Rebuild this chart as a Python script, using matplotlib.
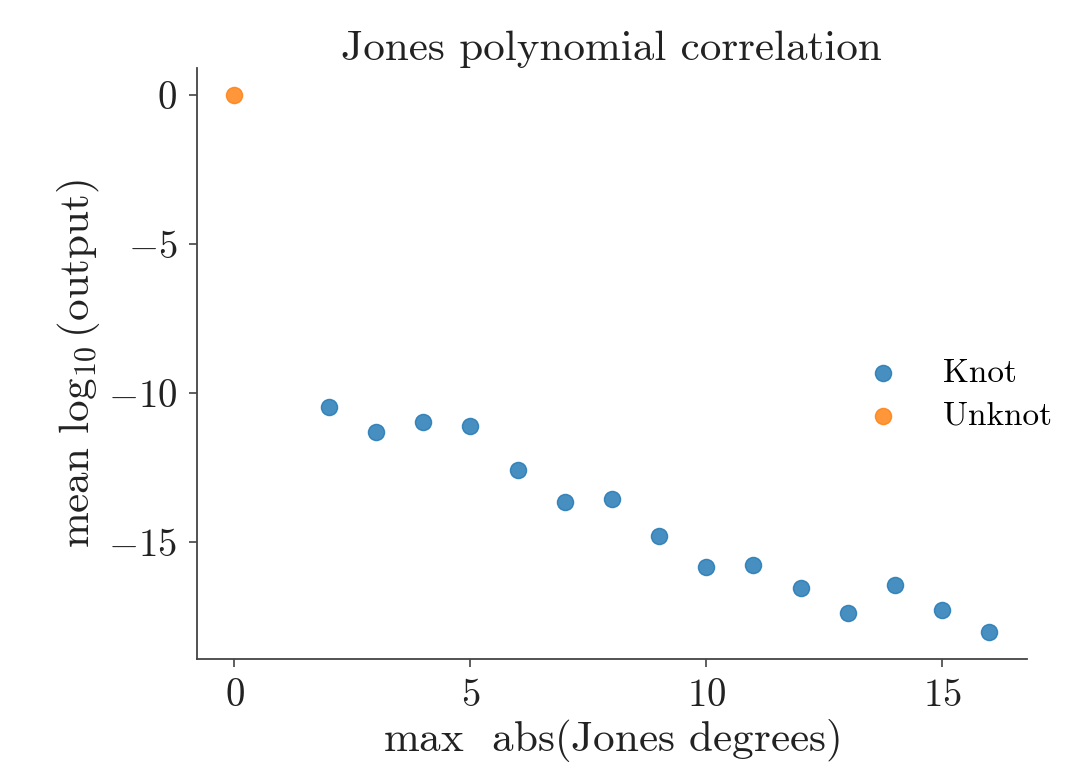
import matplotlib
matplotlib.use("Agg")
import matplotlib.pyplot as plt

knot_x = [2, 3, 4, 5, 6, 7, 8, 9, 10, 11, 12, 13, 14, 15, 16]
knot_y = [-10.47, -11.31, -10.97, -11.11, -12.58, -13.66, -13.56, -14.80,
          -15.84, -15.77, -16.54, -17.38, -16.44, -17.28, -18.02]
unknot_x = [0]
unknot_y = [0.0]

plt.rcParams['font.family'] = ['cmr10', 'DejaVu Serif']
plt.rcParams['mathtext.fontset'] = 'cm'
plt.rcParams['axes.formatter.use_mathtext'] = True
plt.rcParams['axes.unicode_minus'] = True

fig = plt.figure(figsize=(10.81, 7.67), dpi=100)
ax = fig.add_axes([0.182, 0.141, 0.768, 0.770])

ax.scatter(knot_x, knot_y, s=135, color='#1f77b4', alpha=0.82, label='Knot', linewidths=1.0)
ax.scatter(unknot_x, unknot_y, s=135, color='#ff7f0e', alpha=0.82, label='Unknot', linewidths=1.0)

ax.set_xticks([0, 5, 10, 15])
ax.set_yticks([0, -5, -10, -15])
for s in ['top', 'right']:
    ax.spines[s].set_visible(False)
for s in ['left', 'bottom']:
    ax.spines[s].set_color('#444444')
    ax.spines[s].set_linewidth(1.3)
ax.tick_params(axis='both', labelsize=28, length=6, width=1.2, color='#444444', labelcolor='#222222', pad=8)

ax.set_title('Jones polynomial correlation', fontsize=31, color='#222222', pad=5)
ax.set_xlabel(r'$\max$  abs(Jones degrees)', fontsize=31, color='#222222', labelpad=2)
ax.set_ylabel(r'mean $\log_{10}$(output)', fontsize=31, color='#222222', labelpad=4)

leg = ax.legend(loc='center left', bbox_to_anchor=(0.75, 0.448), frameon=False,
                fontsize=24, handlelength=2.0, handletextpad=0.8, labelspacing=0.4, markerscale=1.0)

fig.savefig('out.png', dpi=100)
